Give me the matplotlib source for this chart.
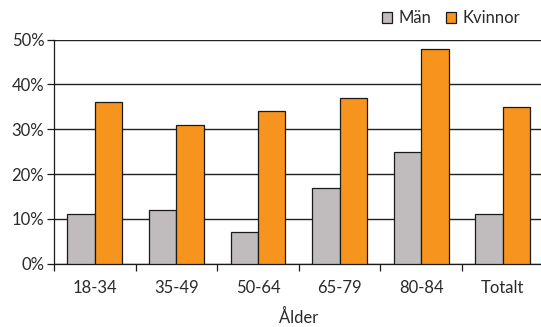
import matplotlib
matplotlib.use("Agg")
import matplotlib.pyplot as plt
import numpy as np
from matplotlib.ticker import FuncFormatter, FixedLocator

categories = ["18-34", "35-49", "50-64", "65-79", "80-84", "Totalt"]
man = [11, 12, 7, 17, 25, 11]
kvinnor = [36, 31, 34, 37, 48, 35]
series_names = ["Män", "Kvinnor"]
yticks = [0, 10, 20, 30, 40, 50]
xlabel = "Ålder"

plt.rcParams['font.family'] = ['Lato', 'DejaVu Sans']
txt = '#2a2a2a'

fig = plt.figure(figsize=(5.41, 3.27), dpi=100)
left = 54 / 541
right = 543.6 / 541
bottom = 1 - 263.7 / 327
top = 1 - 39.7 / 327
ax = fig.add_axes([left, bottom, right - left, top - bottom])

x = np.arange(len(categories))
w = 0.337
ax.bar(x - w / 2, man, w, color='#c0bcbd', edgecolor='#1a1a1a', linewidth=0.9, label=series_names[0], zorder=3)
ax.bar(x + w / 2, kvinnor, w, color='#f7941d', edgecolor='#1a1a1a', linewidth=0.9, label=series_names[1], zorder=3)

ax.set_xlim(-0.5, 5.5)
ax.set_ylim(0, 50)
ax.yaxis.set_major_locator(FixedLocator(yticks))
ax.yaxis.set_major_formatter(FuncFormatter(lambda v, p: f"{int(v)}%"))
ax.grid(axis='y', color='#222222', linewidth=1.0, zorder=0)
ax.set_axisbelow(True)

ax.set_xticks(x)
ax.set_xticklabels(categories)
ax.set_xticks(np.arange(-0.5, 6.0, 1.0), minor=True)
ax.tick_params(axis='x', which='major', length=0, pad=12, labelsize=12, labelcolor=txt)
ax.tick_params(axis='x', which='minor', length=5, width=0.9, color='#1a1a1a')
ax.tick_params(axis='y', length=5, width=0.9, color='#1a1a1a', labelsize=12, labelcolor=txt, pad=2)

for s in ['top', 'right']:
    ax.spines[s].set_visible(False)
ax.spines['left'].set_color('#1a1a1a')
ax.spines['bottom'].set_color('#1a1a1a')
ax.spines['left'].set_linewidth(0.9)
ax.spines['bottom'].set_linewidth(0.9)

ax.set_xlabel(xlabel, fontsize=12, color=txt, labelpad=9)

leg = fig.legend(loc='upper right', bbox_to_anchor=(0.99, 1.015), ncol=2, frameon=False,
                 fontsize=12, handlelength=0.6, handleheight=0.6, handletextpad=0.4,
                 columnspacing=0.9, labelcolor=txt)

fig.savefig("out.png", dpi=100)
